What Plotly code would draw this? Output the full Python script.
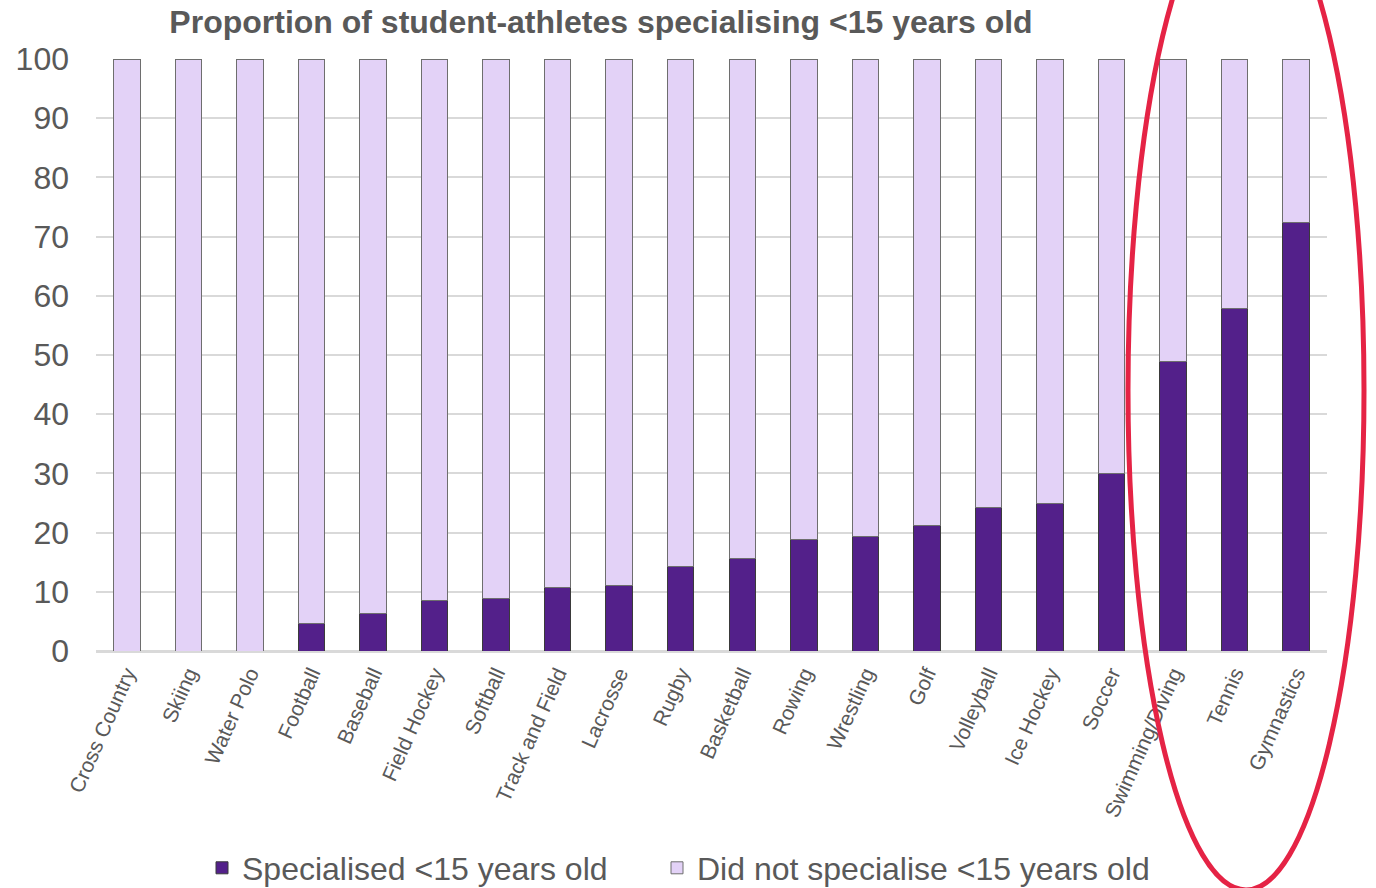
import plotly.graph_objects as go

sports = ["Cross Country", "Skiing", "Water Polo", "Football", "Baseball", "Field Hockey",
          "Softball", "Track and Field", "Lacrosse", "Rugby", "Basketball", "Rowing",
          "Wrestling", "Golf", "Volleyball", "Ice Hockey", "Soccer", "Swimming/Diving",
          "Tennis", "Gymnastics"]
specialised = [0, 0, 0, 4.6, 6.4, 8.6, 8.8, 10.7, 11.1, 14.3, 15.6, 18.8, 19.3, 21.2,
               24.2, 24.9, 30.0, 48.9, 57.9, 72.3]
not_specialised = [100 - v for v in specialised]
y_ticks = [0, 10, 20, 30, 40, 50, 60, 70, 80, 90, 100]

W, H = 1376, 888
L, R, T, B = 96, 49, 59, 237
FONT = "Liberation Sans, Arial, sans-serif"
GREY = "#595959"

fig = go.Figure()
fig.add_trace(go.Bar(
    x=sports, y=specialised, name="Specialised <15 years old",
    marker=dict(color="#53208A", line=dict(color="#3A3A3A", width=1)),
    width=0.43, legend="legend",
))
fig.add_trace(go.Bar(
    x=sports, y=not_specialised, name="Did not specialise <15 years old",
    marker=dict(color="#E3D2F7", line=dict(color="#6E6E6E", width=1)),
    width=0.43, legend="legend2",
))

def px_x(p):
    return (p - L) / (W - L - R)

def px_y(p):
    return (H - B - p) / (H - T - B)

fig.add_shape(type="circle", xref="paper", yref="paper",
              x0=px_x(1128), x1=px_x(1364), y0=px_y(890), y1=px_y(-110),
              line=dict(color="#E52345", width=5), layer="above")

legend_style = dict(orientation="h", xanchor="left", yanchor="middle",
                    y=px_y(868), font=dict(size=32, color=GREY),
                    itemwidth=30, bgcolor="rgba(0,0,0,0)")

fig.update_layout(
    width=W, height=H,
    barmode="stack",
    bargap=0.57,
    plot_bgcolor="white", paper_bgcolor="white",
    margin=dict(l=L, r=R, t=T, b=B, autoexpand=False),
    font=dict(family=FONT, color=GREY),
    title=dict(text="Proportion of student-athletes specialising <15 years old",
               x=601 / W, xanchor="center", xref="container",
               y=1 - 22 / H, yanchor="middle", yref="container",
               font=dict(size=32, color=GREY, family=FONT, weight="bold")),
    xaxis=dict(tickangle=-66, tickfont=dict(size=21, color=GREY),
               showline=True, linecolor="#D9D9D9", linewidth=2,
               ticks="", showgrid=False),
    yaxis=dict(range=[0, 100], tickvals=y_ticks, tickfont=dict(size=32, color=GREY),
               showgrid=True, gridcolor="#D9D9D9", gridwidth=2,
               zeroline=True, zerolinecolor="#D9D9D9", zerolinewidth=2,
               ticks="", ticklabelstandoff=26),
    legend=dict(x=px_x(202), **legend_style),
    legend2=dict(x=px_x(657), **legend_style),
    showlegend=True,
)

fig.write_html("out.html")
